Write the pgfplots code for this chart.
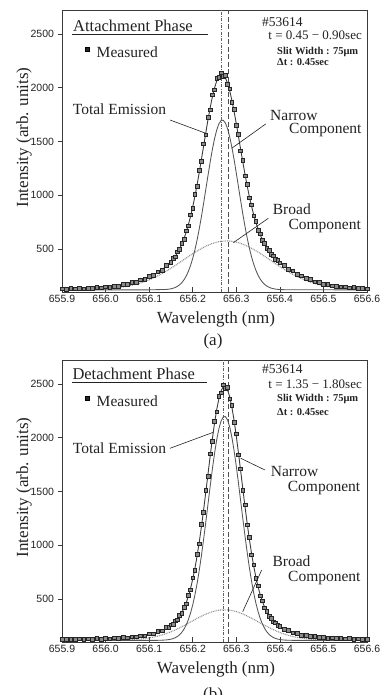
\documentclass[border=0pt]{standalone}
\usepackage{fontspec}
\setmainfont{Liberation Serif}
\setsansfont{Liberation Sans}
\usepackage{pgfplots}
\usepackage{pgfplotstable}
\pgfplotsset{compat=1.18}

\definecolor{ink}{HTML}{222222}
\definecolor{frame}{HTML}{3A3A3A}
\definecolor{totc}{HTML}{3C3C3C}
\definecolor{narc}{HTML}{555555}
\definecolor{broc}{HTML}{8C8C8C}
\definecolor{mkfill}{HTML}{8A8A8A}
\definecolor{mkdraw}{HTML}{262626}

% ---------------- Panel (a): attachment phase ----------------
\pgfplotstableread{
x T M
655.90 129.0 131
655.91 129.5 127
655.92 130.2 132
655.93 131.0 129
655.94 132.0 135
655.95 133.1 131
655.96 134.5 137
655.97 136.2 134
655.98 138.4 141
655.99 140.9 139
656.00 144.1 147
656.01 147.9 145
656.02 152.6 156
656.03 158.3 155
656.04 165.2 169
656.05 173.3 170
656.06 183.1 188
656.07 194.4 191
656.08 207.6 213
656.09 222.8 219
656.10 240.2 247
656.11 259.7 255
656.12 281.4 289
656.13 309.9 304
656.14 341.6 350
656.150 381.1 376
656.155 404.9 414
656.160 432.4 427
656.165 464.5 473
656.170 501.8 495
656.175 545.4 556
656.180 596.6 589
656.185 656.0 668
656.190 724.6 716
656.195 803.0 818
656.200 891.2 880
656.205 989.3 1006
656.210 1096.5 1083
656.215 1211.8 1230
656.220 1332.7 1318
656.225 1456.7 1477
656.230 1580.3 1562
656.235 1700.4 1722
656.240 1812.4 1795
656.245 1912.4 1934
656.250 1996.9 1982
656.255 2062.2 2085
656.260 2105.7 2094
656.265 2125.7 2140
656.270 2121.2 2108
656.275 2092.6 2118
656.280 2041.4 2030
656.285 1969.6 1990
656.290 1880.6 1866
656.295 1778.0 1798
656.300 1665.5 1651
656.305 1547.2 1566
656.310 1427.2 1413
656.315 1308.7 1325
656.320 1194.6 1182
656.325 1087.2 1102
656.330 987.7 976
656.335 897.9 911
656.340 817.5 808
656.345 746.8 757
656.350 685.0 677
656.355 631.5 640
656.360 585.5 578
656.365 546.0 553
656.370 511.6 505
656.375 482.0 489
656.380 455.9 450
656.385 432.9 438
656.390 412.1 407
656.395 393.2 398
656.400 375.9 371
656.41 344.4 350
656.42 315.7 311
656.43 291.0 296
656.44 268.4 264
656.45 247.9 252
656.46 229.7 226
656.47 213.5 217
656.48 199.4 196
656.49 187.1 190
656.50 176.7 174
656.51 167.8 170
656.52 160.4 158
656.53 154.2 156
656.54 149.1 147
656.55 144.9 147
656.56 141.5 139
656.57 138.6 141
656.58 136.3 134
656.59 134.5 136
656.60 133.0 131
}\dataA

\pgfplotstableread{
x y
655.90 120.0
656.10 120.0
656.140 124.0
656.145 126.3
656.150 129.8
656.155 134.9
656.160 142.4
656.165 152.9
656.170 167.5
656.175 187.2
656.180 213.6
656.185 247.9
656.190 291.6
656.195 345.9
656.200 412.1
656.205 491.0
656.210 582.8
656.215 686.9
656.220 801.5
656.225 924.5
656.230 1052.8
656.235 1181.8
656.240 1306.7
656.245 1422.6
656.250 1523.8
656.255 1605.5
656.260 1663.5
656.265 1694.8
656.270 1697.6
656.275 1672.0
656.280 1619.1
656.285 1541.8
656.290 1444.2
656.295 1330.9
656.300 1207.4
656.305 1078.7
656.310 950.0
656.315 825.6
656.320 708.9
656.325 602.7
656.330 508.5
656.335 427.0
656.340 358.3
656.345 301.5
656.350 255.7
656.355 219.7
656.360 191.9
656.365 170.9
656.370 155.4
656.375 144.2
656.380 136.2
656.385 130.7
656.390 126.9
656.395 124.4
656.400 122.7
656.42 120.4
656.60 120.0
}\narA

\pgfplotstableread{
x y
655.90 120.4
655.91 120.5
655.92 120.8
655.93 121.1
655.94 121.5
655.95 122.1
655.96 122.9
655.97 124.0
655.98 125.4
655.99 127.2
656.00 129.6
656.01 132.5
656.02 136.3
656.03 141.0
656.04 146.8
656.05 153.8
656.06 162.3
656.07 172.3
656.08 184.1
656.09 197.7
656.10 213.3
656.11 231.0
656.12 250.6
656.13 272.2
656.14 295.6
656.15 320.6
656.16 346.8
656.17 374.0
656.18 401.6
656.19 428.9
656.20 455.7
656.21 481.0
656.22 504.6
656.23 525.5
656.24 543.3
656.25 557.5
656.26 567.7
656.27 573.5
656.28 574.9
656.29 571.7
656.30 564.1
656.31 552.3
656.32 536.6
656.33 517.4
656.34 495.4
656.35 471.1
656.36 445.1
656.37 418.0
656.38 390.5
656.39 363.0
656.40 336.2
656.41 310.4
656.42 286.0
656.43 263.3
656.44 242.5
656.45 223.6
656.46 206.9
656.47 192.0
656.48 179.2
656.49 168.1
656.50 158.7
656.51 150.8
656.52 144.3
656.53 139.0
656.54 134.7
656.55 131.2
656.56 128.6
656.57 126.4
656.58 124.8
656.59 123.5
656.60 122.5
}\broA

% ---------------- Panel (b): detachment phase ----------------
\pgfplotstableread{
x T M
655.90 124.4 126
655.91 124.9 122
655.92 125.4 128
655.93 125.9 124
655.94 126.5 129
655.95 127.2 125
655.96 127.9 131
655.97 128.7 127
655.98 129.6 132
655.99 130.6 128
656.00 131.7 134
656.01 133.1 131
656.02 134.7 138
656.03 136.6 134
656.04 139.0 142
656.05 141.9 139
656.06 145.4 149
656.07 149.8 147
656.08 155.4 159
656.09 162.2 159
656.10 170.5 175
656.11 180.9 177
656.12 193.5 199
656.13 209.1 205
656.140 228.7 235
656.145 240.5 237
656.150 254.3 261
656.155 270.3 266
656.160 289.4 296
656.165 312.2 306
656.170 339.9 348
656.175 373.5 366
656.180 414.6 425
656.185 464.5 455
656.190 524.8 537
656.195 597.4 586
656.200 683.3 698
656.205 783.7 770
656.210 898.9 916
656.215 1029.1 1012
656.220 1172.8 1193
656.225 1328.2 1309
656.230 1491.9 1514
656.235 1659.9 1638
656.240 1826.6 1850
656.245 1986.2 1964
656.250 2132.8 2155
656.255 2260.3 2241
656.260 2362.3 2384
656.265 2434.7 2418
656.270 2473.6 2492
656.275 2477.2 2461
656.280 2445.2 2466
656.285 2379.4 2362
656.290 2282.7 2301
656.295 2160.1 2141
656.300 2017.0 2036
656.305 1859.3 1842
656.310 1693.3 1712
656.315 1525.1 1508
656.320 1360.3 1377
656.325 1203.3 1189
656.330 1056.8 1071
656.335 923.9 911
656.340 805.7 818
656.345 702.2 692
656.350 613.4 623
656.355 538.4 530
656.360 475.8 484
656.365 423.8 417
656.370 381.1 388
656.375 346.1 340
656.380 317.2 323
656.385 293.5 289
656.390 273.9 279
656.395 257.3 253
656.400 243.2 248
656.41 220.3 216
656.42 202.6 207
656.43 188.2 185
656.44 176.5 180
656.45 167.0 164
656.46 159.3 162
656.47 153.0 150
656.48 148.0 151
656.49 143.8 141
656.50 140.6 143
656.51 137.9 135
656.52 135.8 138
656.53 134.0 132
656.54 132.5 135
656.55 131.3 129
656.56 130.2 132
656.57 129.2 127
656.58 128.3 130
656.59 127.5 126
656.60 126.9 128
}\dataB

\pgfplotstableread{
x y
655.90 115.0
656.10 115.0
656.12 115.6
656.13 116.8
656.140 119.6
656.145 122.2
656.150 126.1
656.155 131.8
656.160 140.1
656.165 151.8
656.170 168.1
656.175 190.1
656.180 219.6
656.185 258.0
656.190 307.2
656.195 369.0
656.200 444.8
656.205 536.0
656.210 642.9
656.215 765.9
656.220 903.8
656.225 1054.5
656.230 1214.6
656.235 1380.2
656.240 1545.5
656.245 1704.6
656.250 1851.2
656.255 1979.0
656.260 2081.6
656.265 2154.3
656.270 2193.5
656.275 2197.1
656.280 2165.0
656.285 2098.7
656.290 2001.5
656.295 1878.5
656.300 1735.3
656.305 1578.1
656.310 1413.3
656.315 1247.4
656.320 1085.8
656.325 933.2
656.330 792.4
656.335 666.5
656.340 556.2
656.345 461.7
656.350 382.9
656.355 318.5
656.360 267.0
656.365 226.5
656.370 195.5
656.375 171.9
656.380 154.6
656.385 142.2
656.390 133.3
656.395 127.1
656.400 122.9
656.41 118.1
656.42 116.2
656.43 115.4
656.60 115.0
}\narB

\pgfplotstableread{
x y
655.90 115.0
655.95 115.0
655.96 115.1
655.97 115.1
655.98 115.2
655.99 115.3
656.00 115.5
656.01 115.9
656.02 116.3
656.03 117.0
656.04 118.0
656.05 119.4
656.06 121.3
656.07 123.9
656.08 127.5
656.09 132.1
656.10 138.0
656.11 145.6
656.12 154.8
656.13 166.1
656.14 179.5
656.15 194.9
656.16 212.5
656.17 231.9
656.18 252.8
656.19 274.7
656.20 297.1
656.21 319.2
656.22 340.1
656.23 359.0
656.24 375.1
656.25 387.6
656.26 396.0
656.27 399.8
656.28 398.8
656.29 393.2
656.30 383.1
656.31 369.0
656.32 351.7
656.33 331.9
656.34 310.5
656.35 288.2
656.36 265.9
656.37 244.2
656.38 223.9
656.39 205.2
656.40 188.5
656.41 173.9
656.42 161.4
656.43 150.9
656.44 142.4
656.45 135.5
656.46 130.1
656.47 125.9
656.48 122.8
656.49 120.4
656.50 118.8
656.51 117.5
656.52 116.7
656.53 116.1
656.54 115.7
656.55 115.5
656.56 115.3
656.57 115.2
656.58 115.1
656.59 115.1
656.60 115.0
}\broB

\pgfplotsset{
  specaxis/.style={
    scale only axis, width=305pt, height=282pt, anchor=south west,
    xmin=655.9, xmax=656.6, ymin=100, ymax=2723,
    xtick={655.9,656.0,656.1,656.2,656.3,656.4,656.5,656.6},
    ytick={500,1000,1500,2000,2500},
    xtick pos=bottom, ytick pos=left,
    xtick align=inside, ytick align=outside,
    major tick length=4.5pt,
    tick style={frame, line width=0.7pt},
    axis line style={frame, line width=0.9pt},
    x tick label style={/pgf/number format/.cd, fixed, fixed zerofill, precision=1, 1000 sep={}, /tikz/.cd},
    y tick label style={/pgf/number format/.cd, fixed, 1000 sep={}, /tikz/.cd},
    /pgf/number format/assume math mode=true,
    tick label style={font=\sffamily\fontsize{10.5}{12}\selectfont, text=ink},
    scaled ticks=false,
    clip=true,
    legend style={draw=none, fill=none, inner sep=0pt, outer sep=0pt,
      font=\fontsize{15.5}{17}\selectfont, text=ink,
      nodes={inner sep=0pt}, column sep=7.5pt, anchor=west},
    legend image code/.code={\draw[#1, mark options={fill=mkdraw}] plot coordinates {(0pt,4pt)};},
  },
  totline/.style={color=totc, line width=0.9pt, mark=none},
  narline/.style={color=narc, line width=0.85pt, mark=none},
  broline/.style={color=broc, line width=1.1pt, dash pattern=on 0.9pt off 0.9pt, mark=none},
  meas/.style={only marks, mark=square*, mark size=1.85pt,
    mark options={draw=mkdraw, fill=mkfill, line width=0.6pt}},
  vdash/.style={color=frame!90, line width=0.8pt, dash pattern=on 5pt off 2.5pt, mark=none},
  vdot/.style={color=frame!80, line width=0.5pt, dash pattern=on 3pt off 1.5pt on 0.6pt off 1.5pt, mark=none},
}

\begin{document}
\begin{tikzpicture}[x=1pt,y=1pt]
\path[use as bounding box] (0,0) rectangle (381,695);

% ===== Panel (a) =====
\begin{axis}[specaxis, at={(62pt,403pt)},
  legend style={at={(axis description cs:0.0772,0.848)}}]
  \addplot[broline] table[x=x,y=y] {\broA};
  \addplot[narline] table[x=x,y=y] {\narA};
  \addplot[totline] table[x=x,y=T] {\dataA};
  \addplot[meas] table[x=x,y=M] {\dataA};
  \addplot[vdot] coordinates {(656.266,100) (656.266,2723)};
  \addplot[vdash] coordinates {(656.281,100) (656.281,2723)};
  \legend{,,,Measured}
\end{axis}

% ===== Panel (b) =====
\begin{axis}[specaxis, at={(62pt,53pt)},
  legend style={at={(axis description cs:0.0772,0.851)}}]
  \addplot[broline] table[x=x,y=y] {\broB};
  \addplot[narline] table[x=x,y=y] {\narB};
  \addplot[totline] table[x=x,y=T] {\dataB};
  \addplot[meas] table[x=x,y=M] {\dataB};
  \addplot[vdot] coordinates {(656.271,100) (656.271,2723)};
  \addplot[vdash] coordinates {(656.281,100) (656.281,2723)};
  \legend{,,,Measured}
\end{axis}

\begin{scope}[every node/.style={text=ink, inner sep=0pt}]
% ---- annotations (a) ----
\node[anchor=base west, font=\fontsize{16.5}{18}\selectfont] at (73,663.3) {Attachment Phase};
\draw[ink, line width=0.9pt] (72,660.6) -- (208,660.6);
\node[anchor=base west, font=\fontsize{13.5}{15}\selectfont] at (262,668.3) {\#53614};
\node[anchor=base east, font=\fontsize{13}{15}\selectfont] at (362,655) {t = 0.45 − 0.90sec};
\node[anchor=base west, font=\bfseries\fontsize{10.5}{12}\selectfont] at (277,640) {Slit Width : 75μm};
\node[anchor=base west, font=\bfseries\fontsize{10.5}{12}\selectfont] at (277,629.5) {Δt : 0.45sec};
\node[anchor=base west, font=\fontsize{15.5}{17}\selectfont] at (72.7,580) {Total Emission};
\draw[ink, line width=0.6pt] (170,575) -- (205,562);
\node[anchor=base west, font=\fontsize{15.5}{17}\selectfont] at (270,574.5) {Narrow};
\node[anchor=base west, font=\fontsize{15.5}{17}\selectfont] at (289,561) {Component};
\draw[ink, line width=0.6pt] (265.7,571) -- (231.7,546.7);
\node[anchor=base west, font=\fontsize{15.5}{17}\selectfont] at (272.7,480) {Broad};
\node[anchor=base west, font=\fontsize{15.5}{17}\selectfont] at (288.3,465) {Component};
\draw[ink, line width=0.6pt] (268.3,476.7) -- (233.3,452.3);
\node[anchor=base, font=\fontsize{17}{19}\selectfont] at (216,371.7) {Wavelength (nm)};
\node[anchor=base, font=\fontsize{17}{19}\selectfont] at (213,349) {(a)};
\node[rotate=90, anchor=center, font=\fontsize{17}{19}\selectfont] at (24,557.5) {Intensity (arb. units)};

% ---- annotations (b) ----
\node[anchor=base west, font=\fontsize{16.5}{18}\selectfont] at (72.3,315) {Detachment Phase};
\draw[ink, line width=0.9pt] (72,312.4) -- (207,312.4);
\node[anchor=base west, font=\fontsize{13.5}{15}\selectfont] at (262,321.7) {\#53614};
\node[anchor=base east, font=\fontsize{13}{15}\selectfont] at (362,306.7) {t = 1.35 − 1.80sec};
\node[anchor=base west, font=\bfseries\fontsize{10.5}{12}\selectfont] at (277,293.3) {Slit Width : 75μm};
\node[anchor=base west, font=\bfseries\fontsize{10.5}{12}\selectfont] at (277,279.3) {Δt : 0.45sec};
\node[anchor=base west, font=\fontsize{15.5}{17}\selectfont] at (72.7,241.7) {Total Emission};
\draw[ink, line width=0.6pt] (170,246.7) -- (213.3,262.7);
\node[anchor=base west, font=\fontsize{15.5}{17}\selectfont] at (270.7,218.3) {Narrow};
\node[anchor=base west, font=\fontsize{15.5}{17}\selectfont] at (287.7,203.3) {Component};
\draw[ink, line width=0.6pt] (265,225) -- (240.7,236.7);
\node[anchor=base west, font=\fontsize{15.5}{17}\selectfont] at (272.3,128.3) {Broad};
\node[anchor=base west, font=\fontsize{15.5}{17}\selectfont] at (288,113) {Component};
\draw[ink, line width=0.6pt] (261.7,125) -- (242.7,83.3);
\node[anchor=base, font=\fontsize{17}{19}\selectfont] at (216,21.7) {Wavelength (nm)};
\node[anchor=base, font=\fontsize{17}{19}\selectfont] at (213,-5) {(b)};
\node[rotate=90, anchor=center, font=\fontsize{17}{19}\selectfont] at (24,207.5) {Intensity (arb. units)};
\end{scope}
\end{tikzpicture}
\end{document}
